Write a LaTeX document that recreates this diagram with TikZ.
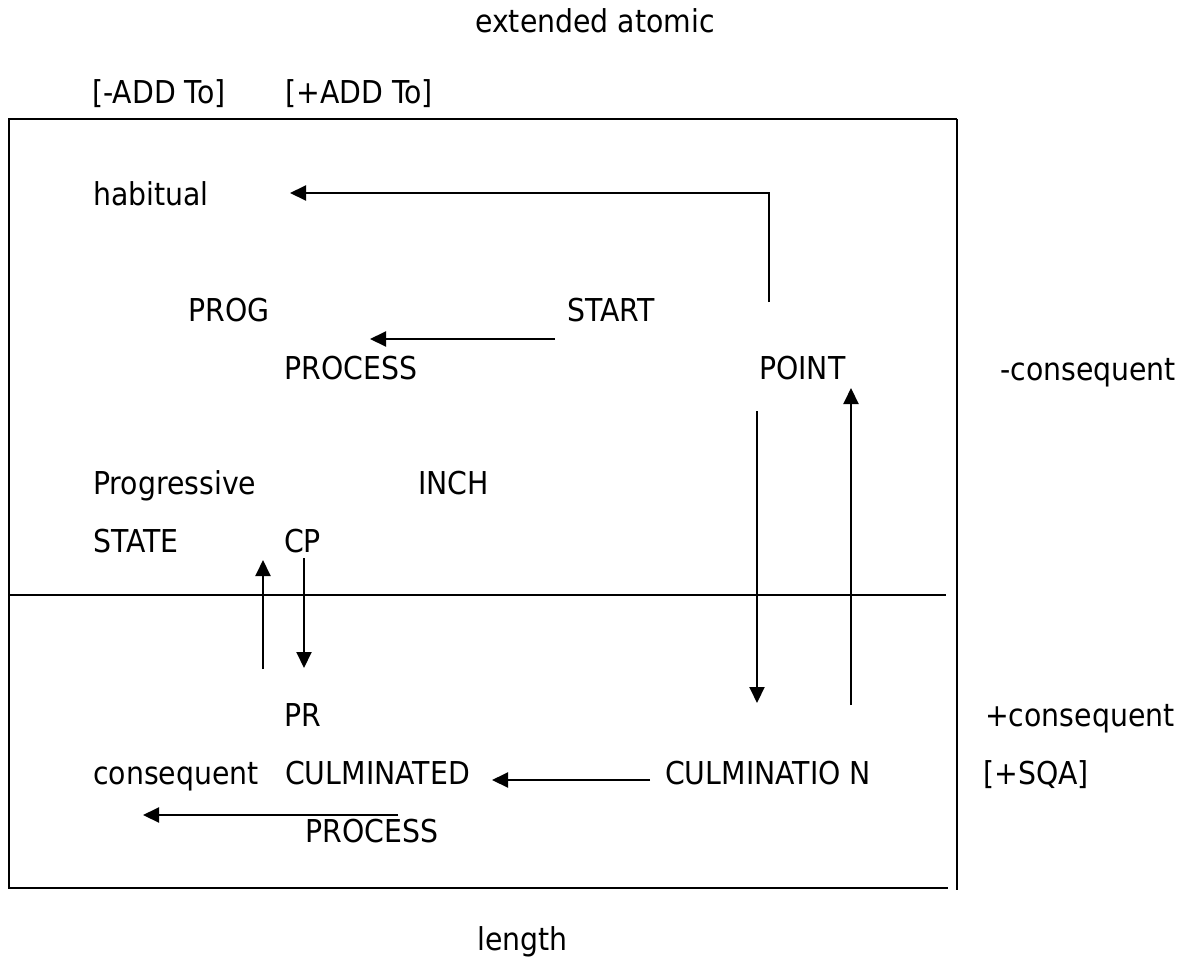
\documentclass[tikz,border=0pt]{standalone}
\usepackage{fontspec}
\setmainfont{DejaVu Sans}[FakeStretch=0.9]
\usetikzlibrary{arrows.meta}
\tikzset{
  lbl/.style={anchor=base west, inner sep=0pt, font=\fontsize{31.5}{36}\selectfont},
  ln/.style={line width=2pt},
  arr/.style={ln, -{Triangle[length=16pt,width=15pt]}}
}
\begin{document}
\begin{tikzpicture}[x=1pt,y=-1pt]
\useasboundingbox (0,0) rectangle (1190,963);
% texts
\node[lbl] (ext) at (475,33) {extended atomic};
\node[lbl] (addm) at (92,103) {[-ADD To]};
\node[lbl] (addp) at (285,103) {[+ADD To]};
\node[lbl] (hab) at (93,205) {habitual};
\node[lbl] (prog) at (188,321) {PROG};
\node[lbl] (start) at (567,321) {START};
\node[lbl] (proc1) at (284,379) {PROCESS};
\node[lbl] (point) at (759,379) {POINT};
\node[lbl] (mcons) at (1000,380) {-consequent};
\node[lbl] (progr) at (93,494) {Progressive};
\node[lbl] (inch) at (418,494) {INCH};
\node[lbl] (state) at (93,552) {STATE};
\node[lbl] (cp) at (284,552) {CP};
\node[lbl] (pr) at (284,726) {PR};
\node[lbl] (pcons) at (985,726) {+consequent};
\node[lbl] (cons) at (93,784) {consequent};
\node[lbl] (culmd) at (285,784) {CULMINATED};
\node[lbl] (culmn) at (665,784) {CULMINATIO N};
\node[lbl] (sqa) at (983,784) {[+SQA]};
\node[lbl] (proc2) at (305,842) {PROCESS};
\node[lbl] (len) at (477,950) {length};
% frame
\coordinate (tr) at (957,119);
\coordinate (tl) at (9,119);
\coordinate (bl) at (9,888);
\coordinate (br) at (948,888);
\coordinate (rb) at (957,890);
\coordinate (ml) at (9,595);
\coordinate (mr) at (946,595);
\draw[ln] (tr) -- (tl) -- (bl) -- (br);
\draw[ln] (tr) -- (rb);
\draw[ln] (ml) -- (mr);
% arrows
\coordinate (h0) at (769,302);
\coordinate (h1) at (290,193);
\draw[arr] (h0) |- (h1);
\coordinate (s0) at (555,339);
\coordinate (s1) at (370,339);
\draw[arr] (s0) -- (s1);
\coordinate (u0) at (263,669);
\coordinate (u1) at (263,560);
\draw[arr] (u0) -- (u1);
\coordinate (d0) at (304,558);
\coordinate (d1) at (304,668);
\draw[arr] (d0) -- (d1);
\coordinate (pd0) at (757,411);
\coordinate (pd1) at (757,703);
\draw[arr] (pd0) -- (pd1);
\coordinate (pu0) at (851,705);
\coordinate (pu1) at (851,388);
\draw[arr] (pu0) -- (pu1);
\coordinate (c0) at (650,780);
\coordinate (c1) at (492,780);
\draw[arr] (c0) -- (c1);
\coordinate (l0) at (398,815);
\coordinate (l1) at (143,815);
\draw[arr] (l0) -- (l1);
\end{tikzpicture}
\end{document}
